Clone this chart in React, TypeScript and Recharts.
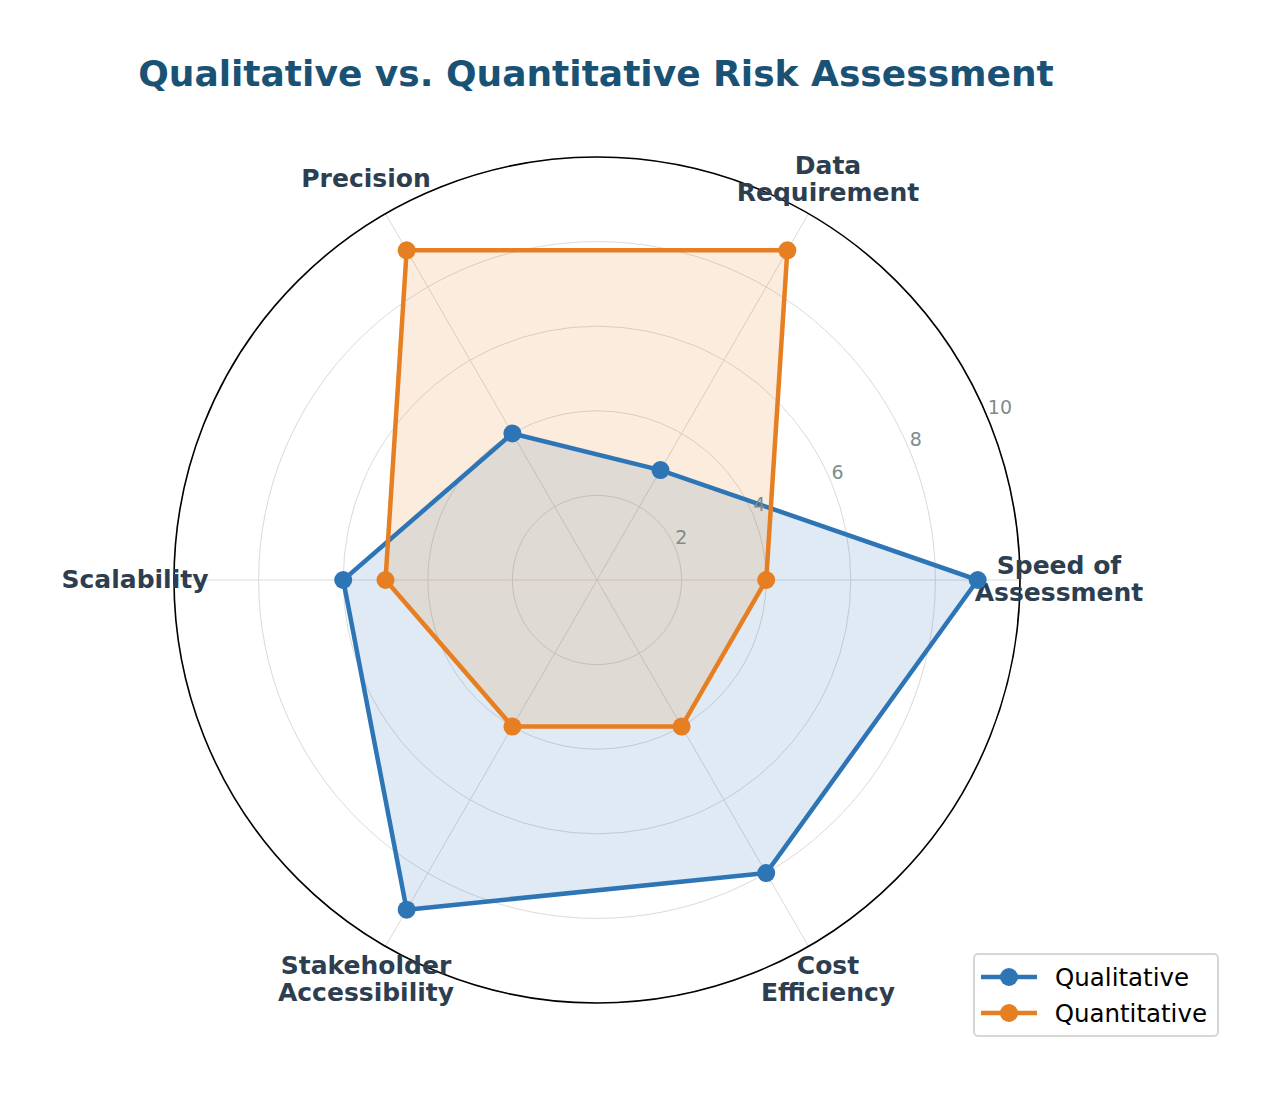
import { RadarChart, Radar, PolarGrid, PolarAngleAxis, PolarRadiusAxis, Legend } from 'recharts';

// categories listed clockwise, starting from the upper-left spoke
const categories = [
  'Precision',
  'Data\nRequirement',
  'Speed of\nAssessment',
  'Cost\nEfficiency',
  'Stakeholder\nAccessibility',
  'Scalability',
];
const qualitative = [4, 3, 9, 8, 9, 6];
const quantitative = [9, 9, 4, 4, 4, 5];
const seriesNames = ['Qualitative', 'Quantitative'];
const seriesColors = ['#2e75b6', '#e67e22'];

const data = categories.map((c, i) => ({
  category: c,
  Qualitative: qualitative[i],
  Quantitative: quantitative[i],
}));

const W = 1278;
const H = 1093;
const CX = 597;
const CY = 580;
const R = 423;
const LABEL_R = 462;
const FONT = '"DejaVu Sans", sans-serif';

const AngleTick = (props: any) => {
  const { payload } = props;
  const rad = (-payload.coordinate * Math.PI) / 180;
  const x = CX + LABEL_R * Math.cos(rad);
  const y = CY + LABEL_R * Math.sin(rad) - 1;
  const lines = String(payload.value).split('\n');
  const lh = 27;
  const y0 = y - ((lines.length - 1) * lh) / 2;
  return (
    <text
      x={x}
      y={y0}
      textAnchor="middle"
      fill="#2c3e50"
      fontSize={25}
      fontWeight="bold"
      fontFamily={FONT}
    >
      {lines.map((l, i) => (
        <tspan key={i} x={x} y={y0 + i * lh} dominantBaseline="central">
          {l}
        </tspan>
      ))}
    </text>
  );
};

const RadiusTick = (props: any) => {
  const { x, y, payload } = props;
  if (payload.value === 0) return <g />;
  return (
    <text
      x={x}
      y={y - 11}
      textAnchor="start"
      dominantBaseline="central"
      fill="#7f8c8d"
      fontSize={19}
      fontFamily={FONT}
    >
      {payload.value}
    </text>
  );
};

const LegendBox = () => (
  <div
    style={{
      border: '2px solid #d6d6d6',
      borderRadius: 5,
      background: '#fff',
      padding: '4px 10px 4px 6px',
      fontFamily: FONT,
      fontSize: 24.5,
      color: '#000',
    }}
  >
    {seriesNames.map((n, i) => (
      <div key={n} style={{ display: 'flex', alignItems: 'center', height: 36 }}>
        <svg width={58} height={20} style={{ marginRight: 16 }}>
          <line x1={0} y1={10} x2={56} y2={10} stroke={seriesColors[i]} strokeWidth={4.5} />
          <circle cx={28} cy={10} r={9} fill={seriesColors[i]} />
        </svg>
        <span>{n}</span>
      </div>
    ))}
  </div>
);

export default function App() {
  return (
    <div style={{ position: 'absolute', left: 0, top: 0, width: W, height: H, background: '#fff' }}>
      <div
        style={{
          position: 'absolute',
          left: 0,
          top: 53,
          width: 1192,
          textAlign: 'center',
          fontFamily: FONT,
          fontWeight: 'bold',
          fontSize: 36,
          color: '#1a5276',
        }}
      >
        Qualitative vs. Quantitative Risk Assessment
      </div>
      <RadarChart
        width={W}
        height={H}
        data={data}
        cx={CX}
        cy={CY}
        outerRadius={R}
        startAngle={120}
        endAngle={-240}
        margin={{ top: 0, right: 0, bottom: 0, left: 0 }}
      >
        <PolarGrid gridType="circle" stroke="#dadada" strokeWidth={1} />
        <PolarAngleAxis
          dataKey="category"
          axisLineType="circle"
          axisLine={{ stroke: '#000', strokeWidth: 1.6 }}
          tickLine={false}
          tick={AngleTick}
        />
        <PolarRadiusAxis
          angle={22.5}
          domain={[0, 10]}
          tickCount={6}
          axisLine={false}
          tickLine={false}
          tick={RadiusTick}
        />
        {/* fills first, outlines and markers on top */}
        {seriesNames.map((n, i) => (
          <Radar
            key={n + '-fill'}
            name={n}
            dataKey={n}
            stroke="none"
            fill={seriesColors[i]}
            fillOpacity={0.15}
            legendType="none"
            isAnimationActive={false}
          />
        ))}
        {seriesNames.map((n, i) => (
          <Radar
            key={n + '-line'}
            name={n}
            dataKey={n}
            stroke={seriesColors[i]}
            strokeWidth={4.5}
            fill="none"
            fillOpacity={0}
            dot={{ r: 9, fill: seriesColors[i], fillOpacity: 1, stroke: 'none' }}
            isAnimationActive={false}
          />
        ))}
        <Legend
          content={<LegendBox />}
          wrapperStyle={{ position: 'absolute', left: 973, top: 953, width: 246 }}
        />
      </RadarChart>
    </div>
  );
}
